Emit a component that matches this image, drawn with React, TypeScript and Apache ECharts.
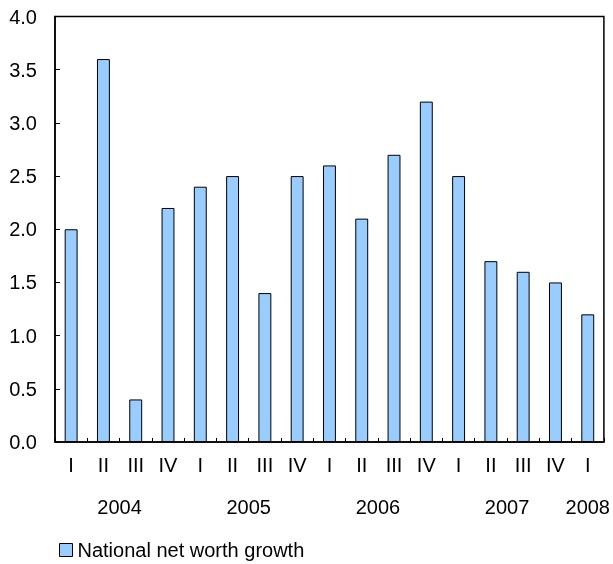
import React, { useEffect, useRef } from "react";
import * as echarts from "echarts";

const quarters = ["I", "II", "III", "IV", "I", "II", "III", "IV", "I", "II", "III", "IV", "I", "II", "III", "IV", "I"];
const values = [2.0, 3.6, 0.4, 2.2, 2.4, 2.5, 1.4, 2.5, 2.6, 2.1, 2.7, 3.2, 2.5, 1.7, 1.6, 1.5, 1.2];
const years = ["2004", "2005", "2006", "2007", "2008"];
// year label positions on a half-category scale (0..34)
const yearPositions = [4, 12, 20, 28, 33];
const seriesName = "National net worth growth";

const FONT = "Liberation Sans";
const FS = 20;

export default function App() {
  const ref = useRef<HTMLDivElement>(null);
  useEffect(() => {
    if (!ref.current) return;
    const chart = echarts.init(ref.current, undefined, { renderer: "svg" });
    chart.setOption({
      animation: false,
      textStyle: { fontFamily: FONT, color: "#000" },
      grid: {
        left: 55,
        top: 16.5,
        right: 7,
        bottom: 122,
        show: true,
        borderColor: "#000",
        borderWidth: 1.5,
        containLabel: false,
      },
      legend: {
        data: [{ name: seriesName, icon: "rect" }],
        left: 59,
        top: 540,
        padding: 0,
        itemWidth: 13,
        itemHeight: 13,
        itemGap: 5,
        textStyle: { fontFamily: FONT, fontSize: FS, color: "#000" },
        itemStyle: { borderColor: "#000", borderWidth: 1 },
      },
      xAxis: [
        {
          type: "category",
          data: quarters,
          position: "bottom",
          axisLine: { show: true, lineStyle: { color: "#000", width: 1.5 } },
          axisTick: { show: true, inside: true, length: 4, lineStyle: { color: "#000" } },
          axisLabel: { fontFamily: FONT, fontSize: FS, color: "#000", margin: 13, interval: 0 },
          splitLine: { show: false },
        },
        {
          type: "value",
          min: 0,
          max: 34,
          interval: 1,
          position: "bottom",
          axisLine: { show: false },
          axisTick: { show: false },
          splitLine: { show: false },
          axisLabel: {
            fontFamily: FONT,
            fontSize: FS,
            color: "#000",
            margin: 55,
            showMinLabel: true,
            showMaxLabel: true,
            formatter: (v: number) => {
              const i = yearPositions.indexOf(Math.round(v));
              return i >= 0 ? years[i] : "";
            },
          },
        },
      ],
      yAxis: {
        type: "value",
        min: 0,
        max: 4,
        interval: 0.5,
        axisLine: { show: true, lineStyle: { color: "#000", width: 1.5 } },
        axisTick: { show: true, inside: true, length: 5, lineStyle: { color: "#000" } },
        axisLabel: {
          fontFamily: FONT,
          fontSize: FS,
          color: "#000",
          margin: 18,
          formatter: (v: number) => v.toFixed(1),
        },
        splitLine: { show: false },
      },
      series: [
        {
          name: seriesName,
          type: "bar",
          xAxisIndex: 0,
          data: values,
          barWidth: "40%",
          itemStyle: { color: "#99CCFF", borderColor: "#000", borderWidth: 1 },
        },
      ],
    });
    return () => chart.dispose();
  }, []);
  return (
    <div
      ref={ref}
      style={{ position: "fixed", left: 0, top: 0, width: 613, height: 564 }}
    />
  );
}
